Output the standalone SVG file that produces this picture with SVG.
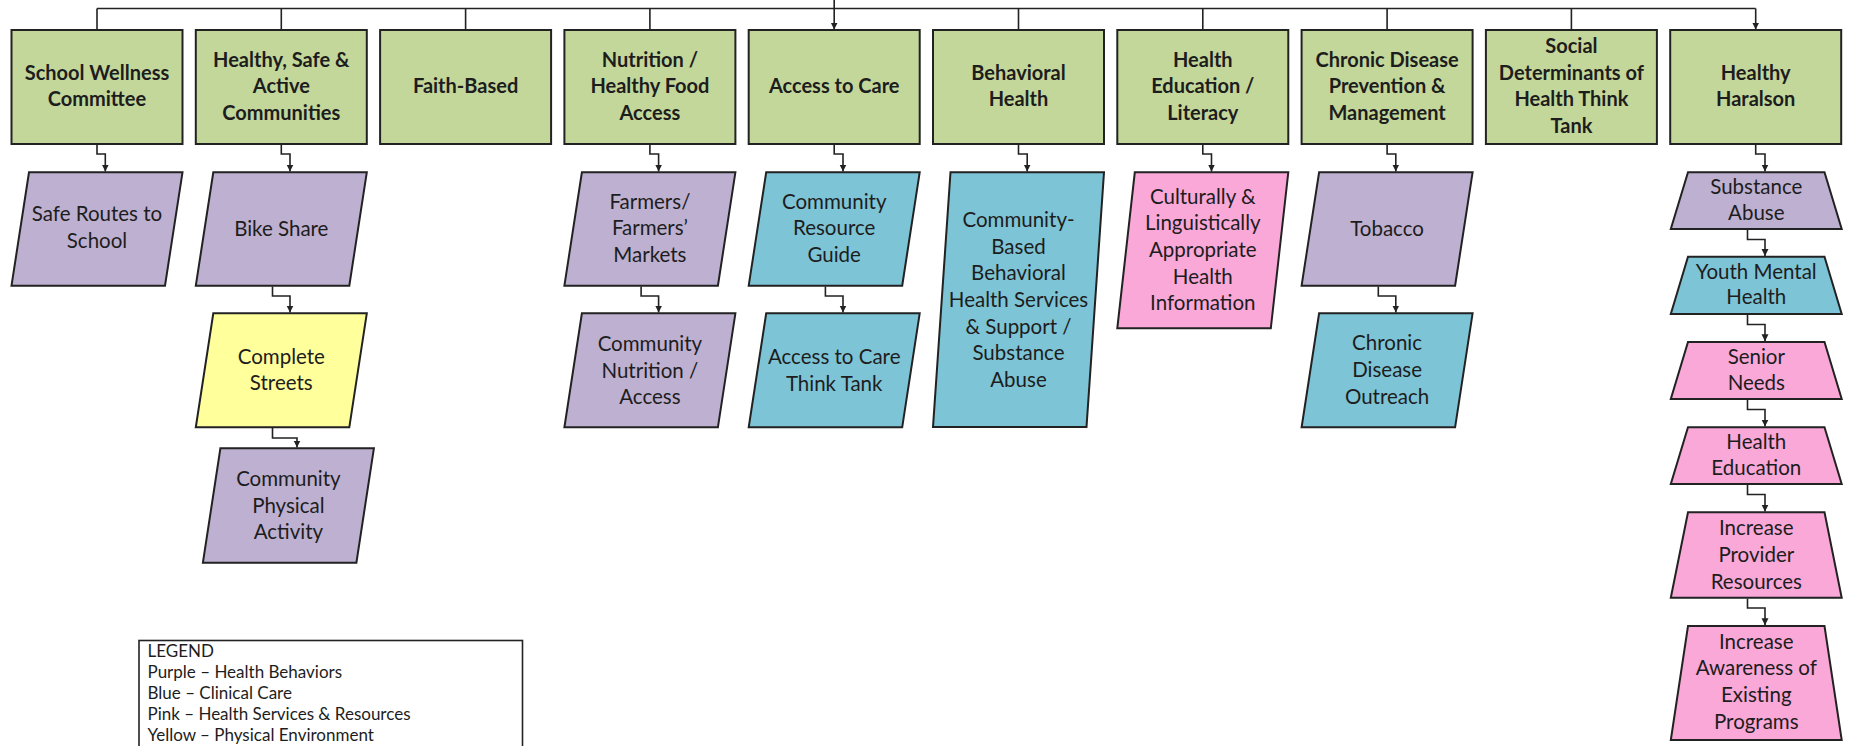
<svg xmlns="http://www.w3.org/2000/svg" width="1849" height="746" viewBox="0 0 1849 746">
  <style>
    .node { stroke: #222; stroke-width: 2; stroke-linejoin: miter; }
    .green { fill: #C4D79B; }
    .purple { fill: #BEB0D0; }
    .blue { fill: #7DC4D6; }
    .pink { fill: #F9A8D8; }
    .yellow { fill: #FFFF9C; }
    .lbl { font-family: Lato, "Liberation Sans", sans-serif; font-size: 20.5px; fill: #1d1d1d; text-anchor: middle; }
    .head { font-weight: bold; font-size: 20px; }
    .wire { fill: none; stroke: #222; stroke-width: 1.6; }
    .legend { font-family: Lato, "Liberation Sans", sans-serif; font-size: 17px; fill: #1d1d1d; }
  </style>
  <defs>
    <marker id="arrow" markerUnits="userSpaceOnUse" markerWidth="8" markerHeight="8" refX="7" refY="3.5" orient="auto">
      <path d="M0,0 L7,3.5 L0,7 Z" fill="#222"/>
    </marker>
  </defs>

  <!-- connectors -->
  <g id="connectors">
    <!-- top bus and drops -->
    <path class="wire" d="M97,8.5 H1755.7"/>
    <path class="wire" d="M834.2,0 V29.5" marker-end="url(#arrow)"/>
    <path class="wire" d="M97,8.5 V30 M281.3,8.5 V30 M465.6,8.5 V30 M649.9,8.5 V30 M1018.5,8.5 V30 M1202.8,8.5 V30 M1387.1,8.5 V30 M1571.4,8.5 V30"/>
    <path class="wire" d="M1755.7,8.5 V29.5" marker-end="url(#arrow)"/>
    <!-- column links -->
    <path class="wire" d="M97,145 V154 H105.3 V171.5" marker-end="url(#arrow)"/>
    <path class="wire" d="M281.3,145 V154 H290 V171.5" marker-end="url(#arrow)"/>
    <path class="wire" d="M272.5,286.5 V296 H290 V312.5" marker-end="url(#arrow)"/>
    <path class="wire" d="M272.5,428 V438 H297 V447.5" marker-end="url(#arrow)"/>
    <path class="wire" d="M649.9,145 V154 H658.6 V171.5" marker-end="url(#arrow)"/>
    <path class="wire" d="M641.1,286.5 V296 H658.6 V312.5" marker-end="url(#arrow)"/>
    <path class="wire" d="M834.2,145 V154 H843 V171.5" marker-end="url(#arrow)"/>
    <path class="wire" d="M825.4,286.5 V296 H843 V312.5" marker-end="url(#arrow)"/>
    <path class="wire" d="M1018.5,145 V154 H1027.2 V171.5" marker-end="url(#arrow)"/>
    <path class="wire" d="M1202.8,145 V154 H1211.5 V171.5" marker-end="url(#arrow)"/>
    <path class="wire" d="M1387.1,145 V154 H1395.8 V171.5" marker-end="url(#arrow)"/>
    <path class="wire" d="M1378.3,286.5 V296 H1395.8 V312.5" marker-end="url(#arrow)"/>
    <path class="wire" d="M1755.7,145 V154 H1765 V171.5" marker-end="url(#arrow)"/>
    <path class="wire" d="M1747.5,230 V239.5 H1765 V256" marker-end="url(#arrow)"/>
    <path class="wire" d="M1747.5,315 V324.5 H1765 V341.3" marker-end="url(#arrow)"/>
    <path class="wire" d="M1747.5,400 V409.5 H1765 V426.6" marker-end="url(#arrow)"/>
    <path class="wire" d="M1747.5,485 V494.5 H1765 V511.6" marker-end="url(#arrow)"/>
    <path class="wire" d="M1747.5,598.7 V608 H1765 V625.3" marker-end="url(#arrow)"/>
  </g>

  <!-- top-level categories -->
  <g id="school-wellness">
    <rect class="node green" x="11.5" y="30" width="171" height="114"/>
    <text class="lbl head"><tspan x="97" y="79.8">School Wellness</tspan><tspan x="97" y="106.3">Committee</tspan></text>
  </g>
  <g id="healthy-safe-active">
    <rect class="node green" x="195.8" y="30" width="171" height="114"/>
    <text class="lbl head"><tspan x="281.3" y="66.5">Healthy, Safe &amp;</tspan><tspan x="281.3" y="93">Active</tspan><tspan x="281.3" y="119.5">Communities</tspan></text>
  </g>
  <g id="faith-based">
    <rect class="node green" x="380.1" y="30" width="171" height="114"/>
    <text class="lbl head"><tspan x="465.6" y="93">Faith-Based</tspan></text>
  </g>
  <g id="nutrition">
    <rect class="node green" x="564.4" y="30" width="171" height="114"/>
    <text class="lbl head"><tspan x="649.9" y="66.5">Nutrition /</tspan><tspan x="649.9" y="93">Healthy Food</tspan><tspan x="649.9" y="119.5">Access</tspan></text>
  </g>
  <g id="access-to-care">
    <rect class="node green" x="748.7" y="30" width="171" height="114"/>
    <text class="lbl head"><tspan x="834.2" y="93">Access to Care</tspan></text>
  </g>
  <g id="behavioral-health">
    <rect class="node green" x="933" y="30" width="171" height="114"/>
    <text class="lbl head"><tspan x="1018.5" y="79.8">Behavioral</tspan><tspan x="1018.5" y="106.3">Health</tspan></text>
  </g>
  <g id="health-education">
    <rect class="node green" x="1117.3" y="30" width="171" height="114"/>
    <text class="lbl head"><tspan x="1202.8" y="66.5">Health</tspan><tspan x="1202.8" y="93">Education /</tspan><tspan x="1202.8" y="119.5">Literacy</tspan></text>
  </g>
  <g id="chronic-disease">
    <rect class="node green" x="1301.6" y="30" width="171" height="114"/>
    <text class="lbl head"><tspan x="1387.1" y="66.5">Chronic Disease</tspan><tspan x="1387.1" y="93">Prevention &amp;</tspan><tspan x="1387.1" y="119.5">Management</tspan></text>
  </g>
  <g id="social-determinants">
    <rect class="node green" x="1485.9" y="30" width="171" height="114"/>
    <text class="lbl head"><tspan x="1571.4" y="53.3">Social</tspan><tspan x="1571.4" y="79.8">Determinants of</tspan><tspan x="1571.4" y="106.3">Health Think</tspan><tspan x="1571.4" y="132.8">Tank</tspan></text>
  </g>
  <g id="healthy-haralson">
    <rect class="node green" x="1670.2" y="30" width="171" height="114"/>
    <text class="lbl head"><tspan x="1755.7" y="79.8">Healthy</tspan><tspan x="1755.7" y="106.3">Haralson</tspan></text>
  </g>

  <!-- initiatives -->
  <g id="safe-routes">
    <polygon class="node purple" points="29,172.3 182.5,172.3 165,285.7 11.5,285.7"/>
    <text class="lbl"><tspan x="97" y="221">Safe Routes to</tspan><tspan x="97" y="247.7">School</tspan></text>
  </g>
  <g id="bike-share">
    <polygon class="node purple" points="213.3,172.3 366.8,172.3 349.3,285.7 195.8,285.7"/>
    <text class="lbl"><tspan x="281.3" y="235.5">Bike Share</tspan></text>
  </g>
  <g id="complete-streets">
    <polygon class="node yellow" points="213.3,313.3 366.8,313.3 349.3,427.3 195.8,427.3"/>
    <text class="lbl"><tspan x="281.3" y="363.7">Complete</tspan><tspan x="281.3" y="390.3">Streets</tspan></text>
  </g>
  <g id="community-physical-activity">
    <polygon class="node purple" points="220.4,448.3 373.9,448.3 356.4,562.7 202.9,562.7"/>
    <text class="lbl"><tspan x="288.4" y="486">Community</tspan><tspan x="288.4" y="512.7">Physical</tspan><tspan x="288.4" y="539.3">Activity</tspan></text>
  </g>
  <g id="farmers-markets">
    <polygon class="node purple" points="581.9,172.3 735.4,172.3 717.9,285.7 564.4,285.7"/>
    <text class="lbl"><tspan x="649.9" y="208.7">Farmers/</tspan><tspan x="649.9" y="235.3">Farmers’</tspan><tspan x="649.9" y="262">Markets</tspan></text>
  </g>
  <g id="community-nutrition">
    <polygon class="node purple" points="581.9,313.3 735.4,313.3 717.9,427.3 564.4,427.3"/>
    <text class="lbl"><tspan x="649.9" y="351">Community</tspan><tspan x="649.9" y="377.7">Nutrition /</tspan><tspan x="649.9" y="404.3">Access</tspan></text>
  </g>
  <g id="resource-guide">
    <polygon class="node blue" points="766.2,172.3 919.7,172.3 902.2,285.7 748.7,285.7"/>
    <text class="lbl"><tspan x="834.2" y="208.7">Community</tspan><tspan x="834.2" y="235.3">Resource</tspan><tspan x="834.2" y="262">Guide</tspan></text>
  </g>
  <g id="care-think-tank">
    <polygon class="node blue" points="766.2,313.3 919.7,313.3 902.2,427.3 748.7,427.3"/>
    <text class="lbl"><tspan x="834.2" y="364.3">Access to Care</tspan><tspan x="834.2" y="391">Think Tank</tspan></text>
  </g>
  <g id="behavioral-services">
    <polygon class="node blue" points="950.5,172.3 1104,172.3 1086.5,427 933,427"/>
    <text class="lbl"><tspan x="1018.5" y="227">Community-</tspan><tspan x="1018.5" y="253.7">Based</tspan><tspan x="1018.5" y="280.3">Behavioral</tspan><tspan x="1018.5" y="307">Health Services</tspan><tspan x="1018.5" y="333.7">&amp; Support /</tspan><tspan x="1018.5" y="360.3">Substance</tspan><tspan x="1018.5" y="387">Abuse</tspan></text>
  </g>
  <g id="health-information">
    <polygon class="node pink" points="1134.8,172.3 1288.3,172.3 1270.8,328.3 1117.3,328.3"/>
    <text class="lbl"><tspan x="1202.8" y="203.7">Culturally &amp;</tspan><tspan x="1202.8" y="230.3">Linguistically</tspan><tspan x="1202.8" y="257">Appropriate</tspan><tspan x="1202.8" y="283.7">Health</tspan><tspan x="1202.8" y="310.3">Information</tspan></text>
  </g>
  <g id="tobacco">
    <polygon class="node purple" points="1319.1,172.3 1472.6,172.3 1455.1,285.7 1301.6,285.7"/>
    <text class="lbl"><tspan x="1387.1" y="235.5">Tobacco</tspan></text>
  </g>
  <g id="chronic-outreach">
    <polygon class="node blue" points="1319.1,313.3 1472.6,313.3 1455.1,427.3 1301.6,427.3"/>
    <text class="lbl"><tspan x="1387.1" y="350.3">Chronic</tspan><tspan x="1387.1" y="377">Disease</tspan><tspan x="1387.1" y="403.7">Outreach</tspan></text>
  </g>

  <!-- Healthy Haralson priorities -->
  <g id="substance-abuse">
    <polygon class="node purple" points="1688,172.3 1824.5,172.3 1841.7,229 1670.8,229"/>
    <text class="lbl"><tspan x="1756.3" y="193.7">Substance</tspan><tspan x="1756.3" y="219.7">Abuse</tspan></text>
  </g>
  <g id="youth-mental-health">
    <polygon class="node blue" points="1688,256.7 1824.5,256.7 1841.7,314 1670.8,314"/>
    <text class="lbl"><tspan x="1756.3" y="278.7">Youth Mental</tspan><tspan x="1756.3" y="304.3">Health</tspan></text>
  </g>
  <g id="senior-needs">
    <polygon class="node pink" points="1688,342 1824.5,342 1841.7,399 1670.8,399"/>
    <text class="lbl"><tspan x="1756.3" y="363.7">Senior</tspan><tspan x="1756.3" y="389.7">Needs</tspan></text>
  </g>
  <g id="health-education-priority">
    <polygon class="node pink" points="1688,427.3 1824.5,427.3 1841.7,484 1670.8,484"/>
    <text class="lbl"><tspan x="1756.3" y="448.7">Health</tspan><tspan x="1756.3" y="474.7">Education</tspan></text>
  </g>
  <g id="provider-resources">
    <polygon class="node pink" points="1688,512.3 1824.5,512.3 1841.7,597.7 1670.8,597.7"/>
    <text class="lbl"><tspan x="1756.3" y="535.3">Increase</tspan><tspan x="1756.3" y="562">Provider</tspan><tspan x="1756.3" y="588.7">Resources</tspan></text>
  </g>
  <g id="program-awareness">
    <polygon class="node pink" points="1688,626 1824.5,626 1841.7,740 1670.8,740"/>
    <text class="lbl"><tspan x="1756.3" y="648.7">Increase</tspan><tspan x="1756.3" y="675.3">Awareness of</tspan><tspan x="1756.3" y="702">Existing</tspan><tspan x="1756.3" y="728.7">Programs</tspan></text>
  </g>

  <!-- legend -->
  <g id="legend">
    <rect x="139" y="640.5" width="383.5" height="130" fill="#fff" stroke="#222" stroke-width="1.6"/>
    <text class="legend"><tspan x="147.5" y="656.5">LEGEND</tspan><tspan x="147.5" y="677.5">Purple – Health Behaviors</tspan><tspan x="147.5" y="698.5">Blue – Clinical Care</tspan><tspan x="147.5" y="719.5">Pink – Health Services &amp; Resources</tspan><tspan x="147.5" y="740.5">Yellow – Physical Environment</tspan></text>
  </g>
</svg>
